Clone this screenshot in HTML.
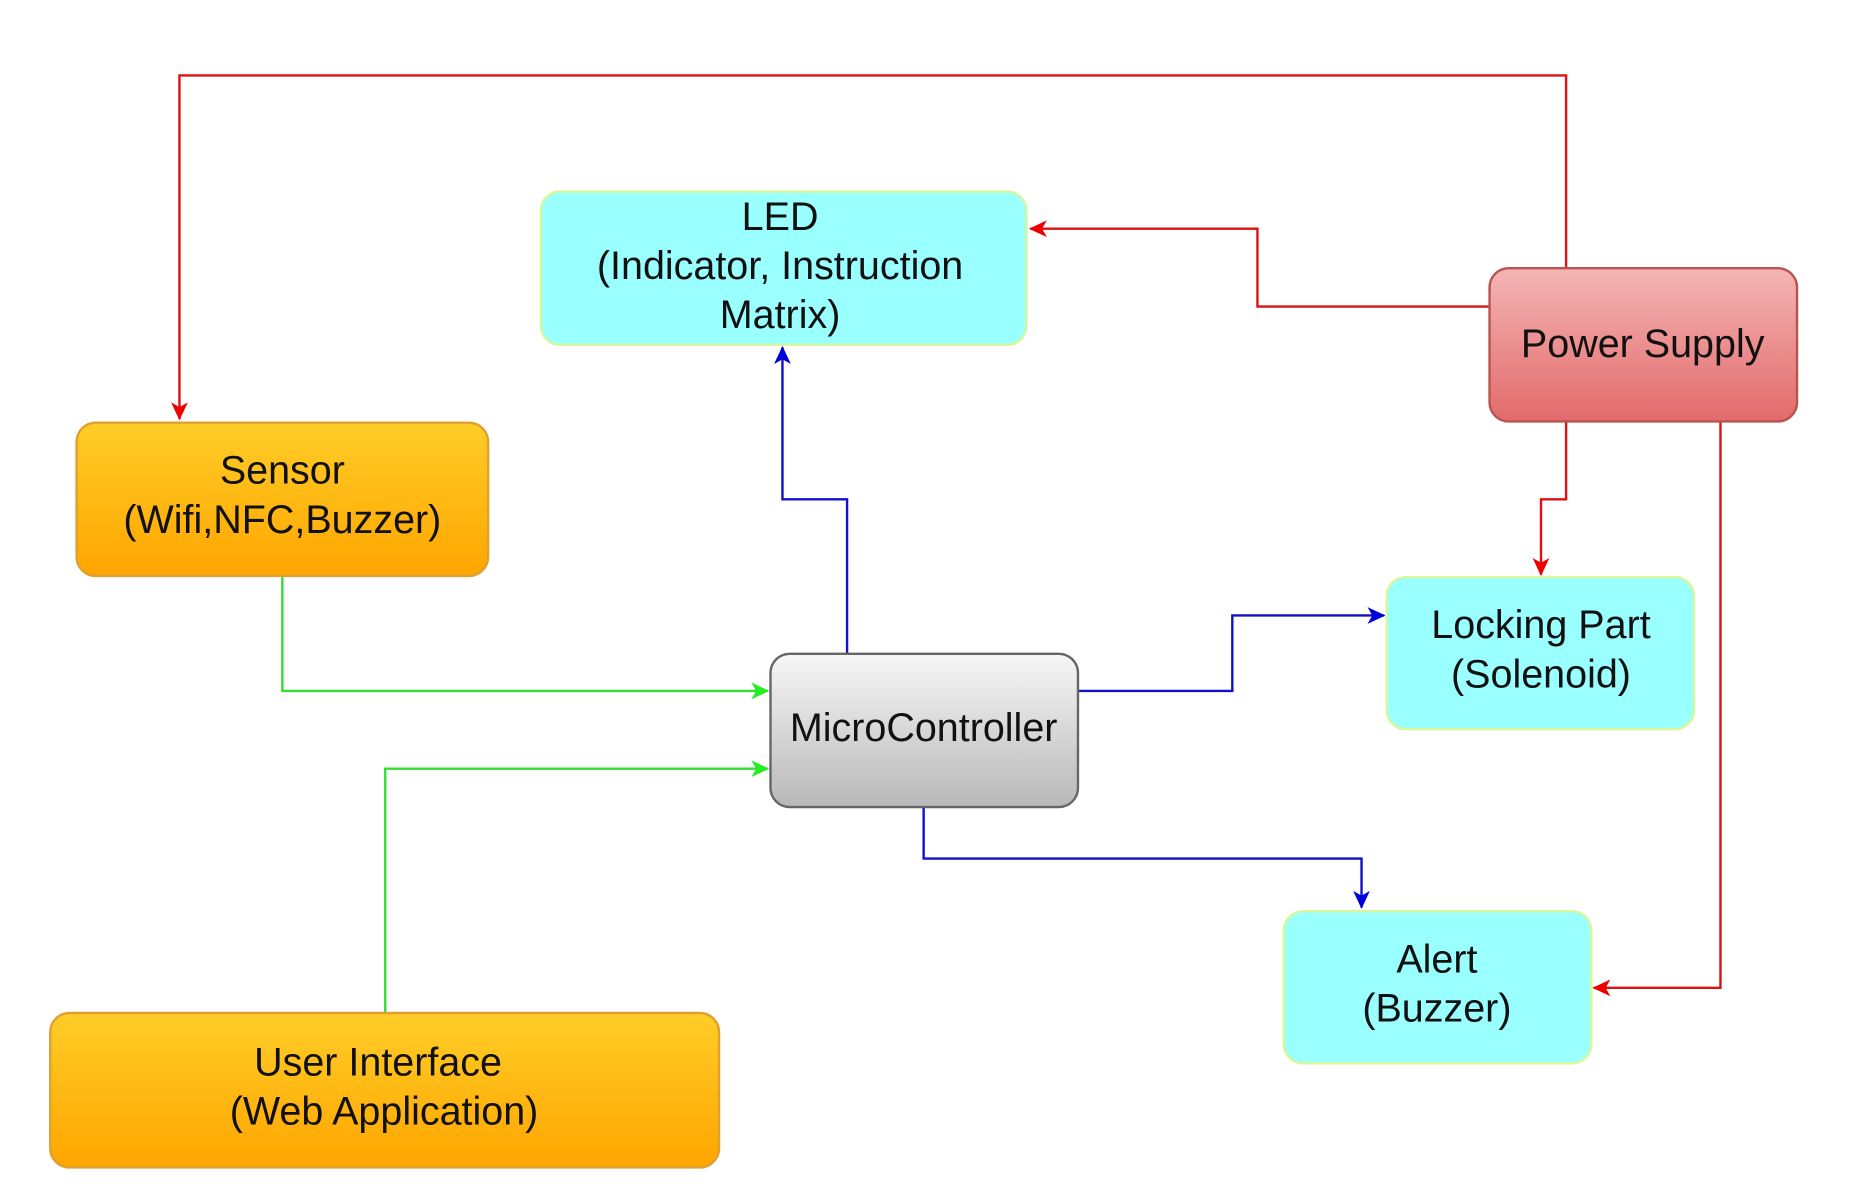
<!DOCTYPE html>
<html><head><meta charset="utf-8"><style>html,body{margin:0;padding:0;background:#fff;}svg{display:block}</style></head>
<body>
<svg width="1876" height="1201" viewBox="0 0 1568 1003" preserveAspectRatio="none" xmlns="http://www.w3.org/2000/svg">
<defs>
<linearGradient id="or" x1="0" y1="0" x2="0" y2="1"><stop offset="0" stop-color="#ffcd28"/><stop offset="1" stop-color="#ffa500"/></linearGradient>
<linearGradient id="rd" x1="0" y1="0" x2="0" y2="1"><stop offset="0" stop-color="#f4b5b5"/><stop offset="1" stop-color="#e36a6a"/></linearGradient>
<linearGradient id="gr" x1="0" y1="0" x2="0" y2="1"><stop offset="0" stop-color="#f7f7f7"/><stop offset="1" stop-color="#b8b8b8"/></linearGradient>
<marker id="ar" markerWidth="16" markerHeight="14" refX="14" refY="7" orient="auto" markerUnits="userSpaceOnUse"><path d="M0,0 L15,7 L0,14 L4,7 z" fill="#e00"/></marker>
<marker id="ab" markerWidth="16" markerHeight="14" refX="14" refY="7" orient="auto" markerUnits="userSpaceOnUse"><path d="M0,0 L15,7 L0,14 L4,7 z" fill="#00d"/></marker>
<marker id="ag" markerWidth="16" markerHeight="14" refX="14" refY="7" orient="auto" markerUnits="userSpaceOnUse"><path d="M0,0 L15,7 L0,14 L4,7 z" fill="#2e2"/></marker>
</defs>
<g fill="none" stroke-width="2">
<polyline points="1309,224 1309,63 150,63 150,350" stroke="#d11" marker-end="url(#ar)"/>
<polyline points="1245,256 1051,256 1051,191 861,191" stroke="#d11" marker-end="url(#ar)"/>
<polyline points="1309,352 1309,417 1288,417 1288,480" stroke="#d11" marker-end="url(#ar)"/>
<polyline points="1438,352 1438,825 1332,825" stroke="#d11" marker-end="url(#ar)"/>
<polyline points="708,546 708,417 654,417 654,290" stroke="#11c" marker-end="url(#ab)"/>
<polyline points="901,577 1030,577 1030,514 1157,514" stroke="#11c" marker-end="url(#ab)"/>
<polyline points="772,674 772,717 1138,717 1138,758" stroke="#11c" marker-end="url(#ab)"/>
<polyline points="236,481 236,577 642,577" stroke="#3d3" marker-end="url(#ag)"/>
<polyline points="322,846 322,642 642,642" stroke="#3d3" marker-end="url(#ag)"/>
</g>
<g stroke-width="2">
<rect x="452" y="160" width="406" height="128" rx="16" fill="#99ffff" stroke="#d8f79a"/>
<rect x="1245" y="224" width="257" height="128" rx="16" fill="url(#rd)" stroke="#b85450"/>
<rect x="64" y="353" width="344" height="128" rx="16" fill="url(#or)" stroke="#e0a030"/>
<rect x="644" y="546" width="257" height="128" rx="16" fill="url(#gr)" stroke="#666"/>
<rect x="1159" y="482" width="257" height="127" rx="16" fill="#99ffff" stroke="#d8f79a"/>
<rect x="1073" y="761" width="257" height="127" rx="16" fill="#99ffff" stroke="#d8f79a"/>
<rect x="42" y="846" width="559" height="129" rx="16" fill="url(#or)" stroke="#e0a030"/>
</g>
<g font-family="Liberation Sans, sans-serif" font-size="33" fill="#111" text-anchor="middle">
<text x="652" y="192">LED</text>
<text x="652" y="233">(Indicator, Instruction</text>
<text x="652" y="274">Matrix)</text>
<text x="1373" y="298">Power Supply</text>
<text x="236" y="404">Sensor</text>
<text x="236" y="445">(Wifi,NFC,Buzzer)</text>
<text x="772" y="619">MicroController</text>
<text x="1288" y="533">Locking Part</text>
<text x="1288" y="574">(Solenoid)</text>
<text x="1201" y="812">Alert</text>
<text x="1201" y="853">(Buzzer)</text>
<text x="316" y="898">User Interface</text>
<text x="321" y="939">(Web Application)</text>
</g>
</svg>
</body></html>
